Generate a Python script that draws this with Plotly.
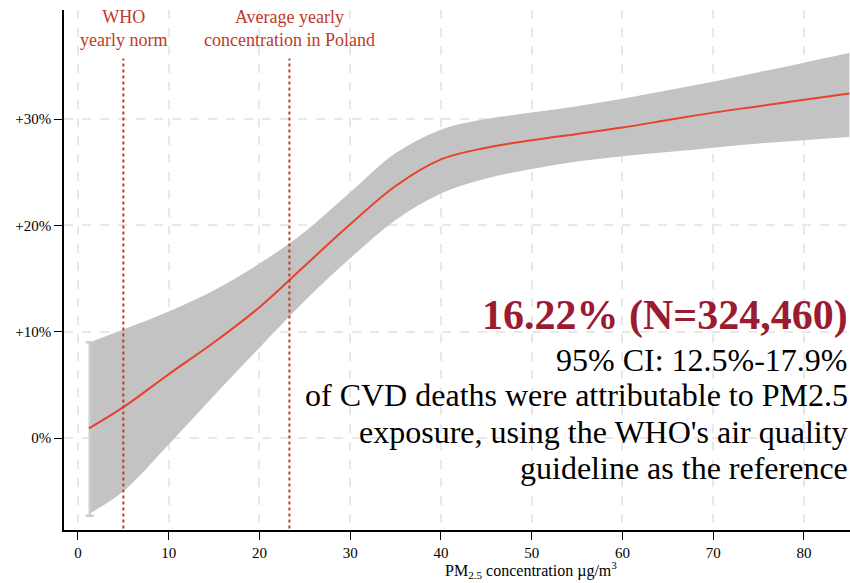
import plotly.graph_objects as go

# PM2.5 concentration (µg/m3) and the estimated change in CVD mortality (%)
pm_curve = [1.2, 5, 10, 15, 20, 25, 30, 35, 40, 45, 50, 55, 60, 65, 70, 75, 80, 85]
rr_curve = [0.9, 2.9, 6.0, 9.0, 12.3, 16.2, 20.1, 23.7, 26.2, 27.3, 28.0, 28.6,
            29.2, 29.9, 30.6, 31.2, 31.8, 32.4]

# 95% confidence band
pm_band = [1.3, 5, 10, 15, 20, 25, 30, 35, 40, 45, 50, 55, 60, 65, 70, 75, 80, 85]
ci_upper = [9.0, 10.2, 11.9, 13.9, 16.4, 19.4, 23.1, 26.8, 29.0, 30.0, 30.6, 31.2,
            31.9, 32.7, 33.5, 34.4, 35.3, 36.2]
ci_lower = [-7.1, -5.0, -0.6, 4.0, 8.5, 12.9, 16.9, 20.5, 23.0, 24.4, 25.3, 26.0,
            26.5, 26.9, 27.3, 27.7, 28.0, 28.3]

# Interval at the lowest observed concentration
whisker_x = [1.3]
whisker_lo = [-7.3]
whisker_hi = [9.0]

# Reference concentrations
who_norm = 5
poland_avg = 23.3

x_ticks = [0, 10, 20, 30, 40, 50, 60, 70, 80]
y_ticks = [0, 10, 20, 30]
y_tick_text = ["0%", "+10%", "+20%", "+30%"]

summary_head = "16.22% (N=324,460)"
summary_lines = [
    "95% CI: 12.5%-17.9%",
    "of CVD deaths were attributable to PM2.5",
    "exposure, using the WHO's air quality",
    "guideline as the reference",
]

SERIF = "Liberation Serif"
REF_RED = "#c0392b"

fig = go.Figure()

# Confidence band
fig.add_trace(go.Scatter(
    x=pm_band, y=ci_lower, mode="lines", line=dict(width=0, shape="spline", smoothing=1.0),
    hoverinfo="skip", showlegend=False))
fig.add_trace(go.Scatter(
    x=pm_band, y=ci_upper, mode="lines", line=dict(width=0, shape="spline", smoothing=1.0),
    fill="tonexty", fillcolor="rgb(195,195,195)", hoverinfo="skip", showlegend=False))

# Whisker at the left end of the band
fig.add_trace(go.Scatter(
    x=whisker_x, y=whisker_lo, mode="markers", marker=dict(size=0.1, opacity=0),
    error_y=dict(type="data", symmetric=False,
                 array=[h - l for h, l in zip(whisker_hi, whisker_lo)],
                 arrayminus=[0], color="rgb(205,205,205)", thickness=2.5, width=4),
    hoverinfo="skip", showlegend=False))

# Point estimate
fig.add_trace(go.Scatter(
    x=pm_curve, y=rr_curve, mode="lines",
    line=dict(color="#e8412c", width=2, shape="spline", smoothing=1.0), showlegend=False))

# Dotted reference lines
for xv in (who_norm, poland_avg):
    fig.add_shape(type="line", x0=xv, x1=xv, y0=-8.5, y1=35.7, xref="x", yref="y",
                  line=dict(color=REF_RED, width=2, dash="dot"))

fig.add_annotation(x=who_norm, y=1.01, xref="x", yref="paper", yanchor="top",
                   text="WHO<br>yearly norm", showarrow=False,
                   font=dict(family=SERIF, size=18, color=REF_RED))
fig.add_annotation(x=poland_avg, y=1.01, xref="x", yref="paper", yanchor="top",
                   text="Average yearly<br>concentration in Poland", showarrow=False,
                   font=dict(family=SERIF, size=18, color=REF_RED))

# Summary statistic text block
fig.add_annotation(x=1.0, y=0.413, xref="paper", yref="paper", xanchor="right",
                   yanchor="middle", text="<b>" + summary_head + "</b>", showarrow=False,
                   font=dict(family=SERIF, size=42, color="#9b1b30"))
line_pos = [0.327, 0.2596, 0.188, 0.119]
for txt, yp in zip(summary_lines, line_pos):
    fig.add_annotation(x=1.0, y=yp, xref="paper", yref="paper", xanchor="right",
                       yanchor="middle", text=txt, showarrow=False,
                       font=dict(family=SERIF, size=32, color="black"))

# Axis title
fig.add_annotation(x=0.594, y=-0.077, xref="paper", yref="paper", xanchor="center",
                   yanchor="middle", text="PM<sub>2.5</sub> concentration µg/m<sup>3</sup>",
                   showarrow=False, font=dict(family=SERIF, size=16, color="black"))

grid = dict(showgrid=True, gridcolor="rgb(232,232,232)", gridwidth=1.5, griddash="dash")

fig.update_layout(
    width=850, height=583,
    margin=dict(l=64, r=0, t=10, b=53),
    paper_bgcolor="white", plot_bgcolor="white",
    font=dict(family=SERIF, size=15, color="black"),
    xaxis=dict(range=[-1.54, 85.07], tickvals=x_ticks, ticks="outside", ticklen=8,
               tickcolor="black", showline=True, linecolor="black", linewidth=1.5,
               zeroline=False, tickfont=dict(size=15), **grid),
    yaxis=dict(range=[-8.65, 40.25], tickvals=y_ticks, ticktext=y_tick_text,
               ticks="outside", ticklen=8, tickcolor="black", showline=True,
               linecolor="black", linewidth=1.5, zeroline=False,
               tickfont=dict(size=15), **grid),
)

fig.write_html("out.html")
